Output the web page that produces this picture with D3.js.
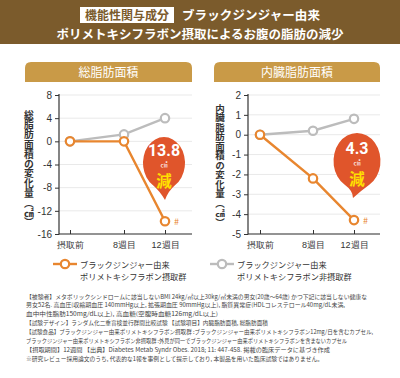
<!DOCTYPE html>
<html><head><meta charset="utf-8">
<script src="https://cdn.jsdelivr.net/npm/d3@7/dist/d3.min.js"></script>
<style>
html,body{margin:0;padding:0;background:#fff;}
svg{display:block;font-family:"Noto Sans CJK JP","Noto Sans",sans-serif;}
</style></head>
<body>
<script>
// ---- data ----
const categories = ["摂取前", "8週目", "12週目"];
const totalIntake = [0, 0, -13.8];
const totalPlacebo = [0, 1.2, 4.0];
const visceralIntake = [0, -2.2, -4.3];
const visceralPlacebo = [0, 0.2, 0.8];
const totalTicks = [-16, -12, -8, -4, 0, 4, 8];
const visceralTicks = [-5, -4, -3, -2, -1, 0, 1, 2];
const reductions = ["13.8", "4.3"];
const panelTitles = ["総脂肪面積", "内臓脂肪面積"];
const yTitles = ["総脂肪面積の変化量（㎠）", "内臓脂肪面積の変化量（㎠）"];
const legendLabels = [["ブラックジンジャー由来", "ポリメトキシフラボン摂取群"], ["ブラックジンジャー由来", "ポリメトキシフラボン非摂取群"]];
const footnotes = [
  "【被験者】メタボリックシンドロームに該当しないBMI  24kg/㎡以上30kg/㎡未満の男女(20歳〜64歳)  かつ下記に該当しない健康な",
  "男女52名. 高血圧(収縮期血圧  140mmHg以上, 拡張期血圧  90mmHg以上), 脂質異常症(HDLコレステロール40mg/dL未満,",
  "血中中性脂肪150mg/dL以上), 高血糖(空腹時血糖126mg/dL以上)",
  "【試験デザイン】ランダム化二重盲検並行群間比較試験  【試験項目】内臓脂肪面積, 総脂肪面積",
  "【試験食品】ブラックジンジャー由来ポリメトキシフラボン摂取群  :ブラックジンジャー由来ポリメトキシフラボン12mg/日を含むカプセル,",
  "ブラックジンジャー由来ポリメトキシフラボン非摂取群 :外見が同一でブラックジンジャー由来ポリメトキシフラボンを含まないカプセル",
  "【摂取期間】12週間  【出典】Diabetes Metab Syndr Obes. 2018; 11: 447-458. 掲載の臨床データに基づき作成",
  "※研究レビュー採用論文のうち, 代表的な1報を事例として提示しており, 本製品を用いた臨床試験ではありません。"
];
const footWidths = [341, 319, 192, 242, 347, 321, 304, 297];

// ---- style ----
const ORANGE = "#e8862f", GRAY = "#bcbcbc", BROWN = "#7b5b2c", GOLD = "#c99a47", RED = "#e0552b";

const W = 400, H = 378;
const svg = d3.select("body").append("svg").attr("width", W).attr("height", H);

// header
svg.append("rect").attr("x", 0).attr("y", 0).attr("width", W).attr("height", 44).attr("fill", BROWN);
svg.append("rect").attr("x", 80).attr("y", 7).attr("width", 94).attr("height", 16).attr("fill", "#fff");
svg.append("text").attr("x", 127).attr("y", 19.5).attr("text-anchor", "middle")
  .attr("font-size", 12).attr("font-weight", "bold").attr("fill", BROWN).text("機能性関与成分");
svg.append("text").attr("x", 182).attr("y", 20).attr("font-size", 12.5).attr("font-weight", "bold")
  .attr("fill", "#fff").attr("textLength", 138).text("ブラックジンジャー由来");
svg.append("text").attr("x", 200).attr("y", 38.5).attr("text-anchor", "middle").attr("font-size", 12.5)
  .attr("font-weight", "bold").attr("fill", "#fff").text("ポリメトキシフラボン摂取によるお腹の脂肪の減少");

const panels = [
  {x0: 25, x1: 192, axisX: 59, pts: [70, 124, 165], domain: [-16, 8], ticks: totalTicks,
   intake: totalIntake, placebo: totalPlacebo, titleX: 29, titleY: 110, titleSize: 9.8,
   bubble: {cx: 164, cy: 163, rx: 21, ry: 26, tipX: 165, tipY: 200}},
  {x0: 214, x1: 380, axisX: 248, pts: [260, 313, 354], domain: [-5, 2], ticks: visceralTicks,
   intake: visceralIntake, placebo: visceralPlacebo, titleX: 220, titleY: 103.5, titleSize: 9.5,
   bubble: {cx: 357, cy: 161, rx: 23.5, ry: 28, tipX: 353, tipY: 198}}
];

panels.forEach((p, i) => {
  const g = svg.append("g");
  // banner
  const bx = p.x0, bw = p.x1 - p.x0, by = 62, bh = 20, r = 6;
  g.append("path").attr("fill", GOLD)
    .attr("d", `M${bx},${by + bh} L${bx},${by + r} Q${bx},${by} ${bx + r},${by} L${bx + bw - r},${by} Q${bx + bw},${by} ${bx + bw},${by + r} L${bx + bw},${by + bh} Z`);
  g.append("text").attr("x", bx + bw / 2).attr("y", by + 14.5).attr("text-anchor", "middle")
    .attr("font-size", 12).attr("fill", "#fff").text(panelTitles[i]);

  const y = d3.scaleLinear().domain(p.domain).range([234, 95]);
  const x = d3.scaleOrdinal().domain(categories).range(p.pts);

  // grid
  g.append("g").selectAll("line").data(p.ticks).join("line")
    .attr("x1", p.axisX).attr("x2", p.x1).attr("y1", d => y(d)).attr("y2", d => y(d))
    .attr("stroke", "#e9e9e9").attr("stroke-width", 1);

  // y axis
  const ya = g.append("g").attr("transform", `translate(${p.axisX},0)`)
    .call(d3.axisLeft(y).tickValues(p.ticks).tickFormat(d => String(d)).tickSize(4).tickPadding(3).tickSizeOuter(0));
  ya.select(".domain").remove();
  ya.selectAll("line").attr("stroke", "#333");
  ya.selectAll("text").attr("font-size", 10).attr("fill", "#333").attr("font-family", "Liberation Sans, Arial, sans-serif");
  g.append("line").attr("x1", p.axisX).attr("x2", p.axisX).attr("y1", 94).attr("y2", 234.5).attr("stroke", "#333").attr("stroke-width", 1.2);

  // x axis
  const xa = g.append("g").attr("transform", `translate(0,234)`)
    .call(d3.axisBottom(x).tickSize(-4).tickPadding(8).tickSizeOuter(0));
  xa.select(".domain").remove();
  xa.selectAll("line").attr("stroke", "#333");
  xa.selectAll("text").attr("font-size", 9).attr("fill", "#333");
  g.append("line").attr("x1", p.axisX).attr("x2", p.x1).attr("y1", 234).attr("y2", 234).attr("stroke", "#333").attr("stroke-width", 1.2);

  // y title (vertical writing)
  g.append("text").attr("x", p.titleX).attr("y", p.titleY)
    .style("writing-mode", "vertical-rl").style("text-orientation", "upright")
    .attr("font-size", p.titleSize).attr("fill", "#333").attr("font-weight", "bold").text(yTitles[i]);

  // lines
  const line = d3.line().x((d, j) => x(categories[j])).y(d => y(d));
  [[p.placebo, GRAY], [p.intake, ORANGE]].forEach(([vals, col]) => {
    g.append("path").attr("d", line(vals)).attr("fill", "none").attr("stroke", col).attr("stroke-width", 2.4);
    g.append("g").selectAll("circle").data(vals).join("circle")
      .attr("cx", (d, j) => x(categories[j])).attr("cy", d => y(d)).attr("r", 4.2)
      .attr("fill", "#fff").attr("stroke", col).attr("stroke-width", 2.2);
  });
  // #
  const last = p.intake[p.intake.length - 1];
  g.append("text").attr("x", x(categories[2]) + 9).attr("y", y(last) + 3.5).attr("font-size", 9)
    .attr("fill", ORANGE).text("#");

  // bubble
  const b = p.bubble;
  const ang = 0.55;
  const lx = b.cx - b.rx * Math.sin(ang), ly = b.cy + b.ry * Math.cos(ang);
  const rx2 = b.cx + b.rx * Math.sin(ang);
  g.append("path").attr("fill", RED)
    .attr("d", `M${lx},${ly} A${b.rx},${b.ry} 0 1 1 ${rx2},${ly} Q${b.cx + 4},${ly + 6} ${b.tipX},${b.tipY} Q${b.cx - 4},${ly + 6} ${lx},${ly} Z`);
  g.append("text").attr("x", b.cx).attr("y", b.cy - 7.5).attr("text-anchor", "middle")
    .attr("font-size", 16).attr("font-weight", "bold").attr("fill", "#fff")
    .attr("font-family", "Liberation Sans Narrow, Roboto, sans-serif").text(reductions[i]);
  g.append("text").attr("x", b.cx).attr("y", b.cy + 4).attr("text-anchor", "middle")
    .attr("font-size", 7).attr("fill", "#fff").text("㎠");
  g.append("text").attr("x", b.cx).attr("y", b.cy + 24).attr("text-anchor", "middle")
    .attr("font-size", 15.5).attr("font-weight", "bold").attr("fill", "#ffe000").text("減");
});

// legend
const legends = [{x: 53, col: ORANGE}, {x: 210, col: GRAY}];
legends.forEach((l, i) => {
  svg.append("line").attr("x1", l.x).attr("x2", l.x + 24).attr("y1", 264).attr("y2", 264)
    .attr("stroke", l.col).attr("stroke-width", 2.4);
  svg.append("circle").attr("cx", l.x + 12).attr("cy", 264).attr("r", 4.2).attr("fill", "#fff")
    .attr("stroke", l.col).attr("stroke-width", 2.2);
  legendLabels[i].forEach((t, k) => {
    svg.append("text").attr("x", l.x + 27).attr("y", 267.5 + k * 12).attr("font-size", 8.2)
      .attr("fill", "#333").text(t);
  });
});

// footnotes
footnotes.forEach((t, k) => {
  svg.append("text").attr("x", 26).attr("y", 298.5 + k * 8.9).attr("font-size", 5.8)
    .attr("fill", "#444").attr("textLength", footWidths[k]).attr("lengthAdjust", "spacingAndGlyphs").text(t);
});
</script>
</body></html>
